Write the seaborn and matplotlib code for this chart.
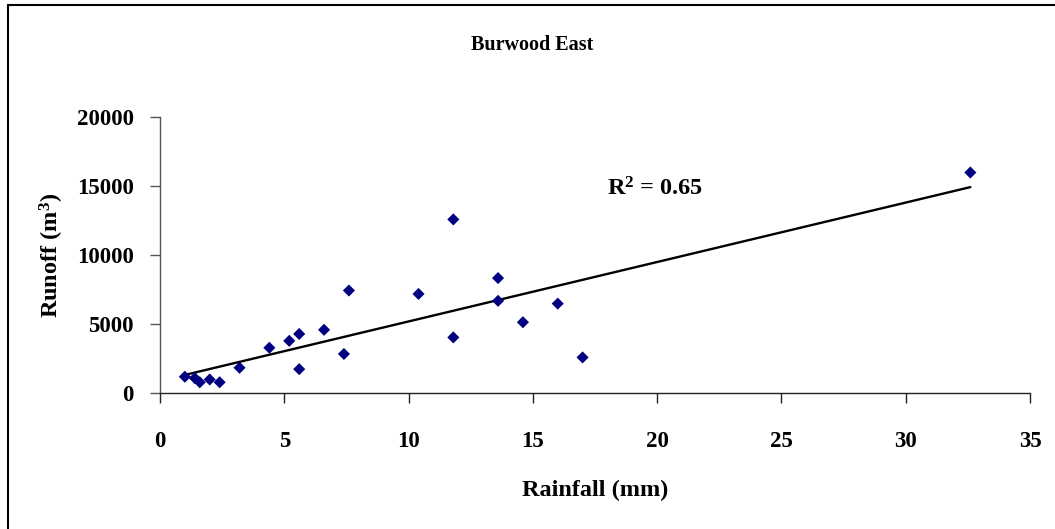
import numpy as np
import pandas as pd
import matplotlib
matplotlib.use("Agg")
import matplotlib.pyplot as plt
from matplotlib.lines import Line2D
import seaborn as sns

# Storm events: rainfall depth and measured runoff volume
rainfall_mm = [1.0, 1.4, 1.6, 2.0, 2.4, 3.2, 4.4, 5.2, 5.6, 5.6, 6.6, 7.4,
               7.6, 10.4, 11.8, 11.8, 13.6, 13.6, 14.6, 16.0, 17.0, 32.6]
runoff_m3 = [1200, 1100, 800, 1000, 800, 1850, 3300, 3800, 4300, 1750, 4600, 2850,
             7450, 7200, 12600, 4050, 8350, 6700, 5150, 6500, 2600, 16000]

title = "Burwood East"
x_label = "Rainfall (mm)"
y_label = r"Runoff (m$^3$)"
r2_label = r"R$^2$ = 0.65"
x_ticks = [0, 5, 10, 15, 20, 25, 30, 35]
y_ticks = [0, 5000, 10000, 15000, 20000]

df = pd.DataFrame({"rainfall": rainfall_mm, "runoff": runoff_m3})

sns.set_theme(style="white")
plt.rcParams["font.family"] = ["Liberation Serif", "DejaVu Serif"]
plt.rcParams["font.weight"] = "bold"
plt.rcParams["text.color"] = "black"
plt.rcParams["axes.labelcolor"] = "black"
plt.rcParams["mathtext.fontset"] = "custom"
plt.rcParams["mathtext.rm"] = "Liberation Serif:bold"
plt.rcParams["mathtext.it"] = "Liberation Serif:bold"
plt.rcParams["mathtext.bf"] = "Liberation Serif:bold"
plt.rcParams["mathtext.default"] = "rm"

W, H = 1055, 529
fig = plt.figure(figsize=(W / 100, H / 100), dpi=100)
fig.patch.set_facecolor("white")
ax = fig.add_axes([160 / W, 1 - 393.3 / H, 870 / W, 276 / H])

sns.scatterplot(data=df, x="rainfall", y="runoff", marker="D", s=38,
                color="#000080", edgecolor="none", linewidth=0, ax=ax, zorder=3)
sns.regplot(data=df, x="rainfall", y="runoff", scatter=False, ci=None,
            truncate=True, color="black", line_kws={"linewidth": 1.7}, ax=ax)

ax.set_xlim(0, 35)
ax.set_ylim(0, 20000)
ax.set_xticks(x_ticks)
ax.set_yticks(y_ticks)
ax.set_xticklabels([str(t) for t in x_ticks])
ax.set_yticklabels([str(t) for t in y_ticks])

for side in ("top", "right"):
    ax.spines[side].set_visible(False)
ax.spines["left"].set_color("#555555")
ax.spines["bottom"].set_color("#222222")
for side in ("left", "bottom"):
    ax.spines[side].set_linewidth(1.0)

ax.tick_params(axis="x", bottom=True, direction="out", length=7, width=1.0,
               color="#222222", pad=20, labelsize=16.5, labelcolor="black")
ax.tick_params(axis="y", left=True, direction="out", length=7, width=1.0,
               color="#555555", pad=12, labelsize=16.5, labelcolor="black")
for lbl in ax.get_xticklabels() + ax.get_yticklabels():
    lbl.set_fontweight("bold")

ax.set_xlabel(x_label, fontsize=17.5, fontweight="bold", va="center", color="black")
ax.set_ylabel(y_label, fontsize=17.5, fontweight="bold", va="center", color="black")
ax.xaxis.set_label_coords(0.5, (393.3 - 490) / 276)
ax.yaxis.set_label_coords((52 - 160) / 870, 0.5)

ax.text(18.0, 14800, r2_label, fontsize=17.5, fontweight="bold",
        ha="left", va="center", color="black")

fig.text(0.504, 1 - 45 / H, title, fontsize=14.5, fontweight="bold",
         ha="center", va="center", color="black")

# Frame lines along the top and left edges of the chart area
fig.add_artist(Line2D([7.5 / W, 1.0], [1 - 4.5 / H, 1 - 4.5 / H],
                      transform=fig.transFigure, color="black", linewidth=1.5))
fig.add_artist(Line2D([7.5 / W, 7.5 / W], [0.0, 1 - 4.5 / H],
                      transform=fig.transFigure, color="black", linewidth=1.5))

fig.savefig("out.png", dpi=100, facecolor="white")
